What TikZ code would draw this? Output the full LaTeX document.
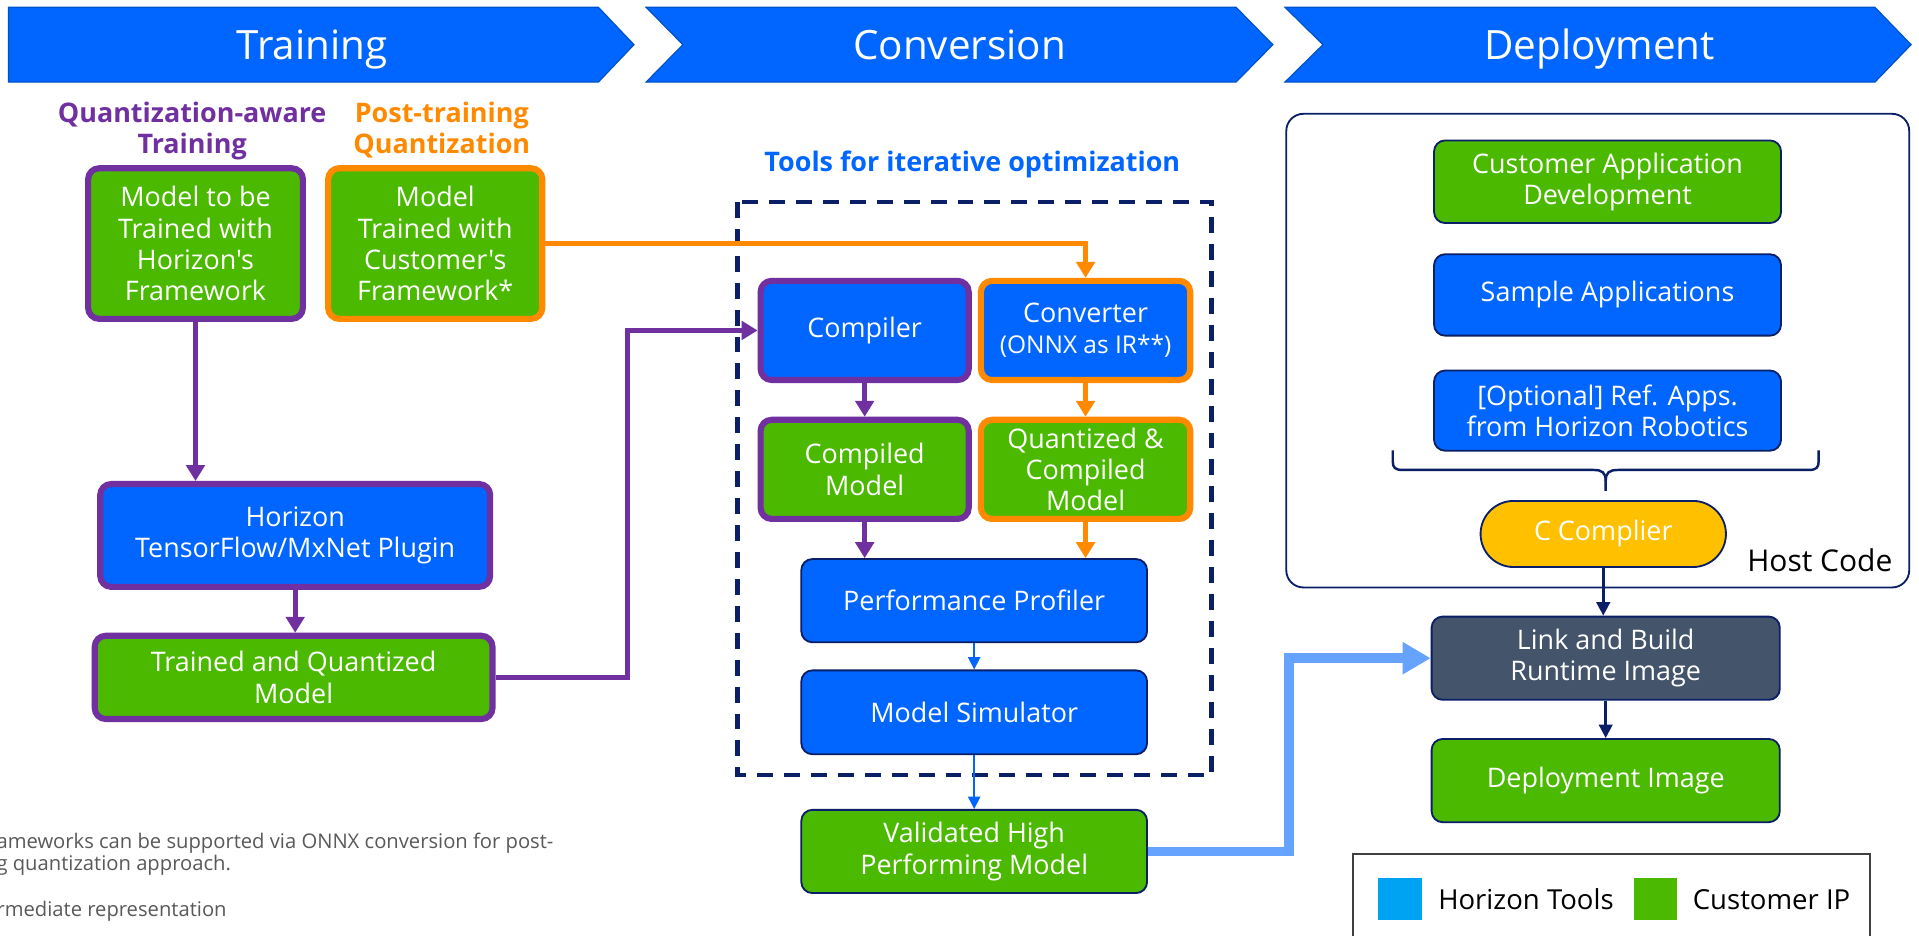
\documentclass[tikz,border=0pt]{standalone}
\usepackage{fontspec}
\setmainfont{Open Sans}[Ligatures=TeXOff]
\usetikzlibrary{arrows.meta,calc}
\definecolor{cblue}{HTML}{0066FF}
\definecolor{cgreen}{HTML}{4BB900}
\definecolor{cpurple}{HTML}{7030A0}
\definecolor{corange}{HTML}{FF8A00}
\definecolor{cnavy}{HTML}{0A1F66}
\definecolor{clight}{HTML}{66A3FF}
\definecolor{cslate}{HTML}{44546A}
\definecolor{cyellow}{HTML}{FFC000}
\definecolor{clegblue}{HTML}{00A2F2}
\definecolor{cgray}{HTML}{595959}
\begin{document}
\begin{tikzpicture}[x=1pt,y=-1pt,
  box/.style={rounded corners=9pt, align=center, text=white, font=\fontsize{22}{25.5}\selectfont, inner sep=0pt},
  gbox/.style={box, fill=cgreen},
  bbox/.style={box, fill=cblue},
  pur/.style={draw=cpurple, line width=5pt},
  ora/.style={draw=corange, line width=5pt},
  thinb/.style={draw=cnavy, line width=1.5pt},
  parr/.style={draw=cpurple, line width=3.8pt, -{Triangle[length=13pt,width=15pt]}},
  oarr/.style={draw=corange, line width=3.8pt, -{Triangle[length=13pt,width=15pt]}},
  barr/.style={draw=cblue, line width=1.2pt, -{Triangle[length=10pt,width=10pt]}},
  narr/.style={draw=cnavy, line width=2.2pt, -{Triangle[length=11pt,width=11pt]}},
  larr/.style={draw=clight, line width=8pt, -{Triangle[length=23pt,width=25pt]}},
  chev/.style={fill=cblue, draw=cblue!80!black, line width=1pt},
  chevtxt/.style={text=white, font=\fontsize{33}{38}\selectfont, anchor=base, inner sep=0pt},
  head/.style={font=\bfseries\fontsize{22}{25.5}\selectfont, align=center, inner sep=0pt},
  foot/.style={text=cgray, font=\fontsize{16.5}{19}\selectfont, anchor=base west, inner sep=0pt}
]
\useasboundingbox (0,0) rectangle (1568,764);
\fill[white] (0,0) rectangle (1568,764);

% chevrons
\draw[chev] (7,6) -- (489,6) -- (518,36.5) -- (489,67) -- (7,67) -- cycle;
\draw[chev] (528,6) -- (1010,6) -- (1040,36.5) -- (1010,67) -- (528,67) -- (558,36.5) -- cycle;
\draw[chev] (1050,6) -- (1532,6) -- (1561.5,36.5) -- (1532,67) -- (1050,67) -- (1081,36.5) -- cycle;
\node[chevtxt] (t1) at (255,49) {Training};
\node[chevtxt] (t2) at (784,49) {Conversion};
\node[chevtxt] (t3) at (1307,49) {Deployment};

% headings
\node[head, text=cpurple, anchor=north] (hq) at (157,82.8) {Quantization-aware\\Training};
\node[head, text=corange, anchor=north] (hp) at (361,82.8) {Post-training\\Quantization};
\node[head, text=cblue, anchor=base] (ht) at (794.5,140) {Tools for iterative optimization};

% dashed box
\draw[cnavy, line width=3.5pt, dash pattern=on 13pt off 9pt] (602.6,165) rectangle (990,633);

% host code box
\draw[cnavy, line width=1.5pt, rounded corners=14pt] (1051,93) rectangle (1560,480);
\node[font=\fontsize{24.5}{28}\selectfont, anchor=base, inner sep=0pt] (hc) at (1487,467) {Host Code};

% training nodes
\node[gbox, pur, minimum width=175.5pt, minimum height=123pt] (qat) at (159.75,199) {Model to be\\Trained with\\Horizon's\\Framework};
\node[gbox, ora, minimum width=175pt, minimum height=123pt] (ptq) at (355.6,199) {Model\\Trained with\\Customer's\\Framework*};
\node[bbox, pur, minimum width=318.6pt, minimum height=84pt] (plugin) at (241.2,437.5) {Horizon\\TensorFlow/MxNet Plugin};
\node[gbox, pur, minimum width=325pt, minimum height=68pt] (tqm) at (239.9,553.5) {Trained and Quantized\\Model};

% conversion nodes
\node[bbox, pur, minimum width=170pt, minimum height=81pt] (compiler) at (706.5,270) {Compiler};
\node[bbox, ora, minimum width=171pt, minimum height=81pt] (converter) at (887,270) {Converter\\{\fontsize{20}{24}\selectfont (ONNX as IR**)}};
\node[gbox, pur, minimum width=170pt, minimum height=81pt] (compiled) at (706.5,383.5) {Compiled\\Model};
\node[gbox, ora, minimum width=171pt, minimum height=81pt] (quantized) at (887,383.5) {Quantized \&\\Compiled\\Model};
\node[bbox, thinb, minimum width=282.5pt, minimum height=68pt] (profiler) at (796,490.8) {Performance Profiler};
\node[bbox, thinb, minimum width=282.5pt, minimum height=68.5pt] (simulator) at (796,582) {Model Simulator};
\node[gbox, thinb, minimum width=282.5pt, minimum height=68pt] (validated) at (796,695.7) {Validated High\\Performing Model};

% deployment nodes
\node[gbox, thinb, minimum width=283.5pt, minimum height=67.5pt] (custapp) at (1313.5,148.5) {Customer Application\\Development};
\node[bbox, thinb, minimum width=283.5pt, minimum height=66.5pt] (sample) at (1313.5,241) {Sample Applications};
\node[bbox, thinb, minimum width=283.5pt, minimum height=65.5pt] (optional) at (1313.5,335.5) {[Optional] Ref. Apps.\\from Horizon Robotics};
\node[box, fill=cyellow, thinb, rounded corners=27pt, minimum width=200.5pt, minimum height=54pt] (ccomp) at (1310,436.3) {C Complier};
\node[box, fill=cslate, thinb, minimum width=284.5pt, minimum height=68pt] (link) at (1312,537.8) {Link and Build\\Runtime Image};
\node[gbox, thinb, minimum width=284.5pt, minimum height=68pt] (deploy) at (1312,637.8) {Deployment Image};

% brace
\draw[cnavy, line width=2pt] (1138,368) -- (1138,377) .. controls (1138,382) and (1140,384) .. (1146,384) -- (1302,384) .. controls (1309,384) and (1312,386) .. (1312,393) -- (1312,401);
\draw[cnavy, line width=2pt] (1486,368) -- (1486,377) .. controls (1486,382) and (1484,384) .. (1478,384) -- (1322,384) .. controls (1315,384) and (1312,386) .. (1312,393);

% connectors
\draw[parr] (qat.south) -- (qat.south |- plugin.north);
\draw[parr] (plugin.south) -- (plugin.south |- tqm.north);
\draw[parr] (tqm.east) -- ++(108,0) |- (compiler.west);
\draw[oarr] (ptq.east) -| (converter.north);
\draw[parr] (compiler.south) -- (compiler.south |- compiled.north);
\draw[oarr] (converter.south) -- (converter.south |- quantized.north);
\draw[parr] (compiled.south) -- (compiled.south |- profiler.north);
\draw[oarr] (quantized.south) -- (quantized.south |- profiler.north);
\draw[barr] (profiler.south) -- (simulator.north);
\draw[barr] (simulator.south) -- (validated.north);
\draw[larr] (validated.east) -- ++(115,0) |- (link.west);
\draw[narr] (ccomp.south) -- (ccomp.south |- link.north);
\draw[narr] (link.south) -- (deploy.north);

% legend
\draw[black!75, line width=1.5pt] (1105.5,698) rectangle (1528,790);
\fill[clegblue] (1126,717) rectangle (1161.5,752);
\node[font=\fontsize{22.5}{26}\selectfont, anchor=base west, inner sep=0pt] (lh) at (1175,743) {Horizon Tools};
\fill[cgreen] (1335,717) rectangle (1370,752);
\node[font=\fontsize{22.5}{26}\selectfont, anchor=base west, inner sep=0pt] (lc) at (1383,743) {Customer IP};

% footnotes
\node[foot] (fn1) at (-3,693) {ameworks can be supported via ONNX conversion for post-};
\node[foot] (fn2) at (-3,711.4) {g quantization approach.};
\node[foot] (fn3) at (-3,748.5) {rmediate representation};
\end{tikzpicture}
\end{document}
